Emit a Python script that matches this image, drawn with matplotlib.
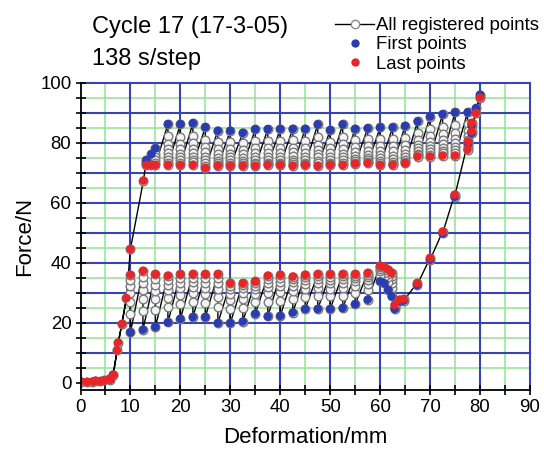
import matplotlib
matplotlib.use("Agg")
import matplotlib.pyplot as plt
from matplotlib.ticker import MultipleLocator
from matplotlib.lines import Line2D
import numpy as np

plt.rcParams['font.family'] = ['Liberation Sans', 'DejaVu Sans']

# ---------------- data ----------------
# initial loading ramp (all registered points, shown as last points)
ramp_x = [0.1, 1.3, 2.4, 3.0, 4.0, 4.8, 5.8, 6.6, 7.3, 7.5, 8.3, 9.2, 10.0, 12.6]
ramp_f = [0.4, 0.3, 0.4, 0.7, 0.5, 0.8, 1.2, 2.7, 10.8, 13.4, 19.6, 28.2, 44.6, 67.4]

# loading plateau: relaxation steps (first point high, relaxes to last point)
top_x = [13.2, 14.2, 15.0, 17.5, 20, 22.5, 25, 27.5, 30, 32.5, 35, 37.5, 40, 42.5,
         45, 47.5, 50, 52.5, 55, 57.5, 60, 62.5, 65, 67.5, 70, 72.5, 75, 77.5, 80.0]
top_first = [74.2, 76.2, 78.1, 86.2, 86.2, 86.5, 85.2, 84.0, 84.0, 83.3, 84.5, 84.5,
             84.6, 84.6, 84.6, 86.1, 84.2, 86.1, 84.6, 84.8, 85.1, 85.1, 85.6, 87.1,
             88.7, 89.5, 90.1, 90.1, 96.0]
top_last = [72.6, 72.6, 72.6, 72.6, 72.6, 72.6, 71.6, 72.3, 72.3, 72.3, 72.3, 72.6,
            72.6, 72.3, 72.6, 72.3, 72.6, 72.6, 73.0, 73.2, 72.6, 72.6, 73.2, 75.4,
            75.4, 75.7, 75.7, 77.7, 95.0]
top_mid = [
    [73.6, 73.1],
    [75.0, 74.0, 73.2],
    [76.4, 75.1, 74.1, 73.3],
    [82.1, 79.6, 77.9, 76.5, 75.3, 74.3, 73.4],
    [82.0, 79.5, 77.8, 76.4, 75.2, 74.2, 73.4],
    [82.3, 79.8, 78.0, 76.6, 75.4, 74.4, 73.5],
    [81.0, 78.5, 76.8, 75.4, 74.2, 73.2, 72.3],
    [80.2, 77.9, 76.3, 75.0, 74.0, 73.2, 72.7],
    [80.3, 78.0, 76.4, 75.1, 74.1, 73.3, 72.7],
    [79.8, 77.6, 76.1, 74.9, 73.9, 73.1, 72.6],
    [80.6, 78.2, 76.6, 75.3, 74.2, 73.4, 72.8],
    [80.5, 78.1, 76.5, 75.2, 74.2, 73.4, 72.9],
    [80.7, 78.3, 76.6, 75.3, 74.2, 73.4, 72.9],
    [80.8, 78.4, 76.8, 75.5, 74.4, 73.5, 72.8],
    [80.6, 78.2, 76.6, 75.3, 74.2, 73.4, 72.9],
    [81.9, 79.4, 77.7, 76.3, 75.1, 74.0, 73.1],
    [80.4, 78.1, 76.5, 75.2, 74.2, 73.4, 72.9],
    [82.0, 79.5, 77.8, 76.4, 75.2, 74.2, 73.3],
    [80.9, 78.6, 77.0, 75.7, 74.7, 73.9, 73.3],
    [81.1, 78.8, 77.3, 76.0, 75.0, 74.2, 73.6],
    [81.3, 79.0, 77.3, 76.0, 74.9, 74.0, 73.2],
    [81.2, 78.8, 77.1, 75.7, 74.6, 73.7, 73.0],
    [81.7, 79.3, 77.7, 76.4, 75.3, 74.4, 73.7],
    [83.3, 81.0, 79.4, 78.1, 77.1, 76.3, 75.8],
    [84.6, 82.1, 80.4, 79.0, 77.8, 76.8, 76.0],
    [85.3, 82.8, 81.0, 79.6, 78.4, 77.4, 76.5],
    [85.8, 83.2, 81.4, 79.9, 78.6, 77.5, 76.5],
    [86.3, 84.0, 82.3, 81.0, 79.9, 79.0, 78.3],
    [95.6],
]

# steep unloading branch
steep_x = [79.2, 78.3, 78.3, 77.6, 74.9, 72.5, 70.0, 67.4, 64.7, 63.9]
steep_first = [91.5, 85.8, 83.2, 79.8, 62.0, 49.8, 41.0, 32.6, 27.4, 27.2]
steep_last = [89.9, 86.6, 83.8, 80.4, 62.7, 50.4, 41.6, 33.2, 27.9, 27.7]

# unloading plateau: steps (first point low, recovers to last point)
low_x = [62.9, 62.3, 61.6, 60.8, 60.0, 57.5, 55, 52.5, 50, 47.5, 45, 42.5, 40, 37.5,
         35, 32.5, 30, 27.5, 25, 22.5, 20, 17.5, 15, 12.5, 10.0]
low_first = [24.6, 28.8, 31.0, 33.2, 33.8, 27.7, 26.2, 24.9, 24.6, 24.6, 24.6, 23.4,
             22.3, 22.1, 23.0, 20.4, 19.9, 19.9, 21.9, 21.9, 21.3, 20.1, 18.6, 17.7, 16.8]
low_last = [26.0, 36.6, 37.7, 38.6, 39.0, 36.6, 36.2, 36.2, 36.2, 36.2, 36.0, 35.4,
            36.0, 35.7, 33.8, 33.2, 33.2, 36.2, 36.2, 36.2, 36.2, 35.7, 36.2, 37.3, 36.0]
low_mid = [
    [25.2],
    [31.5, 33.4, 34.7, 35.7],
    [33.5, 35.2, 36.4, 37.1],
    [35.3, 36.7, 37.6, 38.2],
    [35.8, 37.1, 38.0, 38.6],
    [31.0, 33.0, 34.4, 35.3, 36.0],
    [30.0, 32.3, 33.8, 34.9, 35.7],
    [29.0, 31.6, 33.3, 34.5, 35.5],
    [28.8, 31.4, 33.2, 34.4, 35.4],
    [28.9, 31.5, 33.2, 34.5, 35.5],
    [28.7, 31.3, 33.0, 34.3, 35.3],
    [27.8, 30.5, 32.3, 33.6, 34.6],
    [27.2, 30.1, 32.2, 33.7, 35.0],
    [26.9, 29.8, 31.9, 33.4, 34.7],
    [27.0, 29.5, 31.2, 32.4, 33.3],
    [25.0, 27.9, 30.0, 31.5, 32.5],
    [24.6, 27.6, 29.7, 31.3, 32.4],
    [25.2, 28.7, 31.2, 33.2, 34.9],
    [26.6, 29.6, 31.7, 33.3, 34.9],
    [26.8, 29.8, 31.9, 33.5, 35.0],
    [26.2, 29.3, 31.5, 33.2, 34.8],
    [25.2, 28.4, 30.8, 32.6, 34.3],
    [24.4, 28.0, 30.6, 32.6, 34.5],
    [24.0, 28.0, 30.9, 33.2, 35.3],
    [23.0, 27.0, 30.0, 32.4, 34.4],
]

# final return to zero
end_x = [6.5, 6.0]
end_f = [2.7, 1.0]

title_lines = ["Cycle 17 (17-3-05)", "138 s/step"]
legend_labels = ["All registered points", "First points", "Last points"]
x_label = "Deformation/mm"
y_label = "Force/N"

# ---------------- build series ----------------
path_x, path_f = list(ramp_x), list(ramp_f)
first_x, first_f = [], []
last_x, last_f = list(ramp_x), list(ramp_f)

for x, f0, mids, f1 in zip(top_x, top_first, top_mid, top_last):
    path_x += [x] * (len(mids) + 2)
    path_f += [f0] + mids + [f1]
    first_x.append(x); first_f.append(f0)
    last_x.append(x); last_f.append(f1)

for x, f0, f1 in zip(steep_x, steep_first, steep_last):
    path_x += [x, x]
    path_f += [f0, f1]
    first_x.append(x); first_f.append(f0)
    last_x.append(x); last_f.append(f1)

for x, f0, mids, f1 in zip(low_x, low_first, low_mid, low_last):
    path_x += [x] * (len(mids) + 2)
    path_f += [f0] + mids + [f1]
    first_x.append(x); first_f.append(f0)
    last_x.append(x); last_f.append(f1)

path_x += end_x
path_f += end_f
first_x.append(end_x[0]); first_f.append(end_f[0])
last_x.append(end_x[1]); last_f.append(end_f[1])

# ---------------- figure ----------------
W, H = 544, 451
fig = plt.figure(figsize=(W / 100, H / 100), dpi=100)
ax = fig.add_axes([80.5 / W, (H - 390) / H, 449.5 / W, 307.3 / H])
ax.set_xlim(0, 90)
ax.set_ylim(-2.4, 100)

blue_grid = '#3743B0'
green_grid = '#94E394'
for v in np.arange(5, 100, 10):
    ax.axhline(v, color=green_grid, lw=1.1, zorder=1)
for v in np.arange(10, 101, 10):
    ax.axhline(v, color=blue_grid, lw=1.5, zorder=1.5, clip_on=False)
for v in np.arange(5, 90, 10):
    ax.axvline(v, color=green_grid, lw=1.1, zorder=1)
for v in np.arange(10, 91, 10):
    ax.axvline(v, color=blue_grid, lw=1.5, zorder=1.5, clip_on=False)

ax.plot(path_x, path_f, '-', color='black', lw=1.0, marker='o', ms=6.2,
        mfc='#f4f4f4', mec='#7a7a7a', mew=1.0, zorder=3)
ax.scatter(first_x, first_f, s=38, color='#2B3BB0', edgecolors='none', zorder=4)
ax.scatter(last_x, last_f, s=38, color='#E8262A', edgecolors='none', zorder=5)

for s in ['top', 'right']:
    ax.spines[s].set_visible(False)
for s in ['left', 'bottom']:
    ax.spines[s].set_linewidth(1.3)
    ax.spines[s].set_zorder(6)

ax.xaxis.set_major_locator(MultipleLocator(10))
ax.xaxis.set_minor_locator(MultipleLocator(5))
ax.yaxis.set_major_locator(MultipleLocator(20))
ax.yaxis.set_minor_locator(MultipleLocator(5))
ax.tick_params(which='both', direction='inout', length=7, width=1.2,
               labelsize=13.4, colors='black')
ax.tick_params(axis='x', pad=3)
ax.tick_params(axis='y', pad=3)
ax.set_xlabel(x_label, fontsize=16, labelpad=8)
ax.set_ylabel(y_label, fontsize=16, labelpad=4)

fig.text(92 / W, 1 - 27 / H, title_lines[0], fontsize=17, va='center', ha='left')
fig.text(92 / W, 1 - 59 / H, title_lines[1], fontsize=17, va='center', ha='left')

handles = [
    Line2D([], [], color='black', lw=1.0, marker='o', ms=6, mfc='white',
           mec='#8a8a8a', mew=1.0),
    Line2D([], [], ls='none', marker='o', ms=6, color='#2B3BB0', mec='none'),
    Line2D([], [], ls='none', marker='o', ms=6, color='#E8262A', mec='none'),
]
fig.legend(handles, legend_labels, loc='upper left',
           bbox_to_anchor=(335 / W, 1 - 17 / H), frameon=False,
           fontsize=13.4, handlelength=2.1, handletextpad=0.1,
           labelspacing=0.12, borderpad=0, borderaxespad=0, numpoints=1)

fig.savefig('out.png', dpi=100)
